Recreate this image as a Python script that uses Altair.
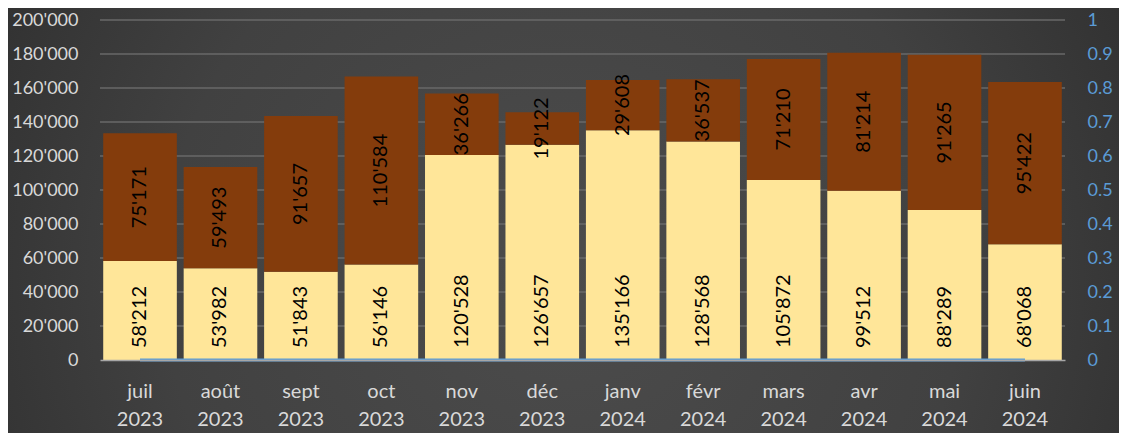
import altair as alt
import pandas as pd

months = ["juil 2023", "août 2023", "sept 2023", "oct 2023", "nov 2023", "déc 2023",
          "janv 2024", "févr 2024", "mars 2024", "avr 2024", "mai 2024", "juin 2024"]
bottom_vals = [58212, 53982, 51843, 56146, 120528, 126657, 135166, 128568, 105872, 99512, 88289, 68068]
top_vals = [75171, 59493, 91657, 110584, 36266, 19122, 29608, 36537, 71210, 81214, 91265, 95422]
line_vals = [0] * 12
left_ticks = list(range(0, 200001, 20000))
right_ticks = [round(i / 10, 1) for i in range(11)]

df = pd.DataFrame({"month": months, "bottom": bottom_vals, "top": top_vals, "line": line_vals})
df["total"] = df["bottom"] + df["top"]
df["mid"] = df["bottom"] + df["top"] / 2
grid_df = pd.DataFrame({"tick": left_ticks[1:]})

FONT = "Lato"
GRID = "#686868"
LABEL = "#d9d9d9"
BLUE = "#5B9BD5"

W, H = 965, 340
PL, PT, PR, PB = 92, 12, 54, 73

x_enc = alt.X("month:N", sort=months, title=None,
              scale=alt.Scale(paddingInner=0.085, paddingOuter=0.04),
              axis=alt.Axis(labelExpr="split(datum.value, ' ')", labelAngle=0,
                            labelFont=FONT, labelFontSize=20, labelColor=LABEL,
                            labelLineHeight=28, labelPadding=21, ticks=False,
                            domain=True, domainColor="#a6a6a6", domainWidth=1.5,
                            grid=False, labelBaseline="top", zindex=1))

yscale = alt.Scale(domain=[0, 200000], nice=False)
left_axis = alt.Axis(values=left_ticks, format=",d", labelFont=FONT, labelFontSize=18,
                     labelColor=LABEL, labelPadding=22, ticks=False, domain=False,
                     grid=False, orient="left", zindex=1, labelOverlap=False, title=None)
base = alt.Chart(df)

bg = alt.Chart(pd.DataFrame({"a": [0]})).mark_rect(
    fill={"gradient": "radial", "x1": 0.5, "y1": 0.55, "x2": 0.5, "y2": 0.55,
          "r1": 0, "r2": 0.72,
          "stops": [{"offset": 0, "color": "#4c4c4c"},
                    {"offset": 0.5, "color": "#414141"},
                    {"offset": 1, "color": "#262626"}]}
).encode(x=alt.value(-PL), x2=alt.value(W + PR), y=alt.value(-PT), y2=alt.value(H + PB))

grid = alt.Chart(grid_df).mark_rule(color=GRID, strokeWidth=1.5).encode(
    y=alt.Y("tick:Q", scale=alt.Scale(domain=[0, 200000], nice=False), axis=None, title=None))

bar_bottom = base.mark_bar(color="#FFE699").encode(
    x=x_enc,
    y=alt.Y("bottom:Q", scale=yscale, axis=left_axis, title=None),
    y2=alt.Y2(datum=0),
)
bar_top = base.mark_bar(color="#843C0C").encode(
    x=x_enc,
    y=alt.Y("total:Q", scale=yscale, axis=left_axis, title=None),
    y2="bottom:Q",
)
lab_bottom = base.mark_text(angle=270, align="left", baseline="middle", dx=12,
                            font=FONT, fontSize=20, color="black").encode(
    x=x_enc, y=alt.Y(datum=0, scale=yscale, axis=left_axis, title=None),
    text=alt.Text("bottom:Q", format=",d"))
lab_top = base.mark_text(angle=270, align="center", baseline="middle",
                         font=FONT, fontSize=20, color="black").encode(
    x=x_enc, y=alt.Y("mid:Q", scale=yscale, axis=left_axis, title=None),
    text=alt.Text("top:Q", format=",d"))

left = alt.layer(bar_bottom, bar_top, lab_bottom, lab_top)

line = base.mark_line(color=BLUE, strokeWidth=3).encode(
    x=x_enc,
    y=alt.Y("line:Q", scale=alt.Scale(domain=[0, 1], nice=False), title=None,
            axis=alt.Axis(orient="right", values=right_ticks, labelExpr="format(datum.value, '~g')",
                          labelFont=FONT, labelFontSize=18, labelColor=BLUE, labelOverlap=False,
                          labelPadding=22, ticks=False, domain=False, grid=False, zindex=1)),
)

chart = alt.layer(bg, grid, left, line).resolve_scale(y="independent").properties(
    width=W, height=H,
    autosize=alt.AutoSizeParams(type="none"),
    padding={"left": PL, "top": PT, "right": PR, "bottom": PB},
    background="#2b2b2b",
).configure_view(stroke=None).configure_axisY(labelOverlap=False).configure(
    locale={"number": {"decimal": ".", "thousands": "'", "grouping": [3], "currency": ["", ""]}}
)

chart.save("out.html", embed_options={"renderer": "svg", "actions": False})
